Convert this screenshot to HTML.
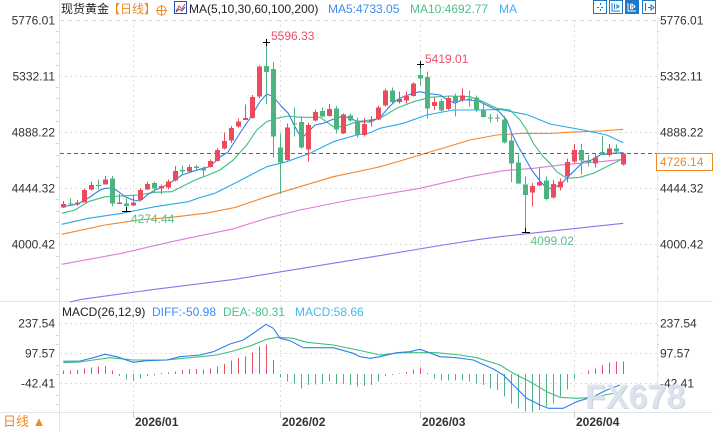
<!DOCTYPE html>
<html><head><meta charset="utf-8"><style>
html,body{margin:0;padding:0;background:#fff;}
svg{display:block;font-family:"Liberation Sans","Noto Sans CJK SC",sans-serif;}
</style></head><body>
<svg width="713" height="431" viewBox="0 0 713 431" xmlns="http://www.w3.org/2000/svg">
<rect width="713" height="431" fill="#fff"/>
<!-- grid -->
<g stroke="#dedede" stroke-width="1" fill="none">
<path d="M60 20.5H657" stroke-dasharray="4,4"/>
<path d="M60 76.5H657M60 132.5H657M60 188.5H657M60 244.5H657" stroke-dasharray="2,3"/>
<path d="M60 323.5H657M60 353.5H657M60 383.5H657" stroke-dasharray="2,3"/>
<path d="M133.5 20V412M280.5 20V412M420.5 20V412M574.5 20V412" stroke-dasharray="2,3"/>
</g>
<!-- frame lines -->
<g stroke="#e2e6ea" stroke-width="1" fill="none">
<path d="M59.5 0V431"/>
<path d="M657.5 16V412" stroke="#ececec"/>
<path d="M0 301.5H713"/>
<path d="M0 412.5H713"/>
<path d="M133.5 412V418M280.5 412V418M420.5 412V418M574.5 412V418" stroke="#c8c8c8"/>
</g>
<g stroke="#cfd6de" stroke-width="1">
<path d="M56 31.5H59M56 42.5H59M56 53.5H59M56 65.5H59M56 87.5H59M56 98.5H59M56 110.5H59M56 121.5H59M56 143.5H59M56 155.5H59M56 166.5H59M56 177.5H59M56 199.5H59M56 211.5H59M56 222.5H59M56 233.5H59M56 256.5H59M56 267.5H59M56 278.5H59M56 289.5H59"/>
<path d="M56 335.5H59M56 344.5H59M56 365.5H59M56 374.5H59M56 395.5H59M56 404.5H59"/>
<path d="M657 31.5H659M657 42.5H659M657 53.5H659M657 65.5H659M657 87.5H659M657 98.5H659M657 110.5H659M657 121.5H659M657 143.5H659M657 177.5H659M657 199.5H659M657 211.5H659M657 222.5H659M657 233.5H659M657 256.5H659M657 267.5H659M657 278.5H659M657 289.5H659"/>
<path d="M657 335.5H659M657 344.5H659M657 365.5H659M657 374.5H659M657 395.5H659M657 404.5H659"/>
</g>
<!-- axis labels -->
<g font-size="12" fill="#333" text-anchor="end">
<text x="55" y="24.5">5776.01</text>
<text x="55" y="80.5">5332.11</text>
<text x="55" y="136.5">4888.22</text>
<text x="55" y="192.5">4444.32</text>
<text x="55" y="248.5">4000.42</text>
<text x="55" y="327.5">237.54</text>
<text x="55" y="357.5">97.57</text>
<text x="55" y="387.5">-42.41</text>
</g>
<g font-size="12" fill="#333">
<text x="660" y="24.5">5776.01</text>
<text x="660" y="80.5">5332.11</text>
<text x="660" y="136.5">4888.22</text>
<text x="660" y="192.5">4444.32</text>
<text x="660" y="248.5">4000.42</text>
<text x="660" y="327.5">237.54</text>
<text x="660" y="357.5">97.57</text>
<text x="660" y="387.5">-42.41</text>
</g>
<!-- MA lines -->
<g fill="none" stroke-width="1.1" stroke-linejoin="round">
<polyline stroke="#8577f0" points="70,302 81.7,299.3 155,289.3 235,279.3 300,268.7 380,255.6 440,245.5 480,239.3 500,236.7 550,231.2 623.3,223.3"/>
<polyline stroke="#e07ad8" points="61.7,264.3 121.7,253.3 171.7,241.7 233.3,228.8 266.7,218.3 300,210 350,200 380,195 420,188.3 470,176.7 503.3,170.7 533.3,168.3 566.7,164.3 600,161.7 623.3,159.3"/>
<polyline stroke="#f5832a" points="61.7,234.3 105,225 138.3,220 171.7,217.3 205,213.3 235,207.5 266.7,196.7 300,186.7 333.3,176.7 370,169 380,166.7 403.3,160 436.7,150 470,140 496.7,135 523.3,133.3 550,133.5 566.7,132.3 600,131 623.3,129.3"/>
<polyline stroke="#2aaae8" points="61.7,224.3 88.3,218.3 121.7,213.3 155,206.7 188.3,201.7 200,197.5 215,193.3 233.3,184 266.7,166.7 286.7,161.7 310,153.3 333.3,141.7 356.7,135 370,132.7 380,128.3 403.3,123.3 426.7,115 453.3,110 480,110 500,109.5 506.7,110.7 520,113.3 528,115 550,124 583.3,130 606.7,135 623.3,142.7"/>
<polyline stroke="#3cbf7f" points="61.7,213.3 75,210 88.3,201.7 105,196.7 121.7,196 138.3,195 155,192.3 171.7,191.7 181.7,186.7 195,180 208.3,175 220,170 233.3,160 246.7,145 256.7,130 266.7,121.7 276.7,118.3 288.3,116 300,117.3 320,117.3 333.3,126.7 343.3,126.7 356.7,121.7 370,120 380,118.3 396.7,108.3 413.3,101.7 430,97.3 450,96 470,96.7 483.3,101.7 496.7,108.3 510,110 520,120 526.7,130 533.3,143.3 543.3,156.7 550,163.3 556.7,171.7 566.7,178.3 580,177.3 593.3,173.3 606.7,166.7 616.7,161.7 623.3,158.3"/>
<polyline stroke="#2f80ed" points="62,206.7 70,205.5 78,204 90,197 100,190 105,188.3 113,188 119,192 125,196.7 133,200 140,201 148,194.3 155,190 162,187.3 172,181.7 182,175 195,170.7 203,168.3 210,166.5 220,157 228,152 235,141 242,130 250,118.3 260,101.7 266.7,94 273.3,96.7 281.7,106.7 288.3,113.3 296.7,130 301.7,138.3 310,130 315,125 323.3,123.3 333.3,119.3 343.3,116 350,118.3 358.3,121.7 370,122 380,117.5 390,106 396.7,100 405,96 413.3,93.3 420,91.7 426.7,93.3 440,95 446.7,99.3 455,103.3 461.7,100 470,100 480,101.7 490,106.7 498.3,110.7 506.7,120 512,134 518,146 525,158 531.7,170 540,181 546.7,188.3 553.3,188.3 561.7,183.3 568.3,176.7 576.7,168.3 583.3,161.7 591.7,160 600,155 611.7,153.3 623.3,152.7"/>
</g>
<!-- current price line -->
<path d="M60 153.5H656" stroke="#1e6fd9" stroke-width="1" stroke-dasharray="4,3"/>
<rect x="656.5" y="153.5" width="56" height="17" fill="#fff" stroke="#f08a24"/>
<text x="660" y="166" font-size="12" fill="#f08a24">4726.14</text>
<!-- candles -->
<g shape-rendering="crispEdges">
<path stroke="#ec4b5c" stroke-width="1" fill="none" d="M63.5 201V208M77.5 200V206M84.5 188.7V202.7M91.5 181.7V190.7M105.5 176V184.7M119.5 194V204M133.5 194.7V206M140.5 188V200.7M147.5 181.7V190M161.5 184.7V194M168.5 179.3V189.3M175.5 166V181.3M189.5 164.3V172.3M210.5 159.3V167.7M217.5 148V161.7M224.5 132.7V149.3M231.5 126V143M238.5 118.7V127.3M245.5 104.7V120M252.5 95V118.7M259.5 65.3V98.7M287.5 123.3V160.7M308.5 122.7V161.3M315.5 109.3V121.3M329.5 104V116.7M343.5 113.3V134M364.5 118V136.7M371.5 116V126.7M378.5 105.3V120M385.5 88.7V106.3M399.5 91.3V103.3M406.5 91.7V103.3M413.5 82.7V96.7M434.5 97.3V110M448.5 96.7V110M462.5 88.7V102M532.5 183V206.7M539.5 168.7V186.7M553.5 180V198.3M560.5 178.3V190.7M567.5 158.3V182.7M574.5 144V163.3M595.5 153.3V167.3M609.5 144V156.7M623.5 152.7V165.3"/>
<g fill="#ec4b5c">
<rect x="61" y="204" width="5" height="3.3"/><rect x="75" y="202.7" width="5" height="2"/><rect x="82" y="190" width="5" height="12.7"/><rect x="89" y="185" width="5" height="4.3"/><rect x="103" y="179.3" width="5" height="5.4"/><rect x="117" y="202.7" width="5" height="1.2"/><rect x="131" y="202.7" width="5" height="2.6"/><rect x="138" y="190" width="5" height="10"/><rect x="145" y="184" width="5" height="5.3"/><rect x="159" y="186" width="5" height="2.7"/><rect x="166" y="181.7" width="5" height="5.6"/><rect x="173" y="171" width="5" height="9.7"/><rect x="187" y="167" width="5" height="4.7"/><rect x="208" y="161" width="5" height="6"/><rect x="215" y="150" width="5" height="11"/><rect x="222" y="141" width="5" height="7.7"/><rect x="229" y="128" width="5" height="12.7"/><rect x="236" y="121.3" width="5" height="5.4"/><rect x="243" y="118" width="5" height="2"/><rect x="250" y="97" width="5" height="21"/><rect x="257" y="66.7" width="5" height="30"/><rect x="285" y="127.3" width="5" height="32.7"/><rect x="306" y="125" width="5" height="24.3"/><rect x="313" y="112" width="5" height="8.7"/><rect x="327" y="109" width="5" height="7"/><rect x="341" y="114.7" width="5" height="18.6"/><rect x="362" y="124" width="5" height="11"/><rect x="369" y="119.3" width="5" height="2.4"/><rect x="376" y="107.3" width="5" height="12"/><rect x="383" y="90.7" width="5" height="15"/><rect x="397" y="99" width="5" height="3"/><rect x="404" y="96" width="5" height="4.7"/><rect x="411" y="83.7" width="5" height="12.3"/><rect x="432" y="102" width="5" height="4"/><rect x="446" y="98" width="5" height="11"/><rect x="460" y="95.3" width="5" height="4.7"/><rect x="530" y="186" width="5" height="6.7"/><rect x="537" y="182" width="5" height="3.7"/><rect x="551" y="184" width="5" height="13.3"/><rect x="558" y="181.7" width="5" height="5.6"/><rect x="565" y="162" width="5" height="14.7"/><rect x="572" y="150" width="5" height="11.7"/><rect x="593" y="157.3" width="5" height="6"/><rect x="607" y="148.3" width="5" height="6.7"/><rect x="621" y="153.3" width="5" height="11.4"/>
</g>
<path stroke="#4db380" stroke-width="1" fill="none" d="M70.5 198.7V206M98.5 179.3V189.3M112.5 176V206.7M126.5 198.7V211M154.5 181.7V192.7M182.5 165.3V174M196.5 165V169.3M203.5 166.3V177.7M266.5 42.7V104M273.5 62V157.3M280.5 133.3V194M294.5 107.3V136.7M301.5 116.7V148.7M322.5 107.3V117.3M336.5 106V133.3M350.5 113.3V121.7M357.5 117.3V137.3M392.5 87.3V103.3M420.5 65V85.7M427.5 71.7V118.7M441.5 98.7V111.3M455.5 93.3V116.7M469.5 90.7V106.7M476.5 95.3V112M483.5 103.3V117.7M490.5 114V122.7M497.5 114V122M504.5 116V143.3M511.5 133.3V182M518.5 153.3V184M525.5 176.7V232.5M546.5 176.7V200.7M581.5 144V174.3M588.5 155V166.7M602.5 136V155M616.5 144.7V153.3"/>
<g fill="#4db380">
<rect x="68" y="203.3" width="5" height="1.2"/><rect x="96" y="185" width="5" height="1.2"/><rect x="110" y="178.3" width="5" height="25"/><rect x="124" y="203.3" width="5" height="2.7"/><rect x="152" y="183" width="5" height="5.7"/><rect x="180" y="170" width="5" height="1.7"/><rect x="194" y="166.3" width="5" height="1.7"/><rect x="201" y="168.3" width="5" height="2"/><rect x="264" y="66" width="5" height="6"/><rect x="271" y="69" width="5" height="67.7"/><rect x="278" y="147.7" width="5" height="15"/><rect x="292" y="123.3" width="5" height="1.4"/><rect x="299" y="122" width="5" height="25.7"/><rect x="320" y="111" width="5" height="5.7"/><rect x="334" y="108.3" width="5" height="21"/><rect x="348" y="115.3" width="5" height="5.4"/><rect x="355" y="120.7" width="5" height="14"/><rect x="390" y="90.3" width="5" height="11.7"/><rect x="418" y="75" width="5" height="3.7"/><rect x="425" y="77" width="5" height="31.7"/><rect x="439" y="101" width="5" height="9.3"/><rect x="453" y="96" width="5" height="6"/><rect x="467" y="98.3" width="5" height="1.7"/><rect x="474" y="97.3" width="5" height="12.7"/><rect x="481" y="110.3" width="5" height="6.7"/><rect x="488" y="117.3" width="5" height="1.2"/><rect x="495" y="117.3" width="5" height="1.2"/><rect x="502" y="119.3" width="5" height="23.4"/><rect x="509" y="140.7" width="5" height="22.6"/><rect x="516" y="162.7" width="5" height="20.6"/><rect x="523" y="184.7" width="5" height="10.3"/><rect x="544" y="180.7" width="5" height="18.3"/><rect x="579" y="150" width="5" height="10.7"/><rect x="586" y="160.7" width="5" height="2"/><rect x="600" y="152" width="5" height="2"/><rect x="614" y="148.7" width="5" height="3"/>
</g>
</g>
<!-- high/low markers -->
<g stroke="#000" stroke-width="1" shape-rendering="crispEdges">
<path d="M263 42.5H270M266.5 39V46"/>
<path d="M417 64.5H424M420.5 61V68"/>
<path d="M122 211.5H131M126.5 207V211"/>
<path d="M522 232.5H530M525.5 228V232"/>
</g>
<g font-size="12">
<text x="271" y="40" fill="#ef4f6a">5596.33</text>
<text x="425" y="63" fill="#ef4f6a">5419.01</text>
<text x="131" y="223" fill="#5cbf8c">4274.44</text>
<text x="530.5" y="245" fill="#5cbf8c">4099.02</text>
</g>
<!-- header -->
<g font-size="12">
<text x="61" y="13" fill="#222">现货黄金</text>
<text x="108" y="13" fill="#f08a24">【日线】</text>
</g>
<g stroke="#f08a24" fill="none" stroke-width="1">
<circle cx="161.5" cy="10.5" r="4.5"/>
<path d="M156 10.5H167M161.5 5V16"/>
</g>
<rect x="174.5" y="1.5" width="12" height="12" fill="#fff" stroke="#2a4fb0"/>
<polyline points="176,11 179,6 182,9 185,4" fill="none" stroke="#e04050" stroke-width="1"/>
<polyline points="176,12 179,9 182,11 185,7" fill="none" stroke="#2a4fb0" stroke-width="1"/>
<g font-size="12">
<text x="189" y="13" fill="#222">MA(5,10,30,60,100,200)</text>
<text x="328" y="13" fill="#3b8cf5">MA5:4733.05</text>
<text x="410" y="13" fill="#4cc28a">MA10:4692.77</text>
<text x="499" y="13" fill="#3fb0f0">MA</text>
</g>
<!-- top-right icons -->
<g stroke="#1e78c8" stroke-width="1" fill="none" shape-rendering="crispEdges">
<rect x="593.5" y="0.5" width="13" height="13"/>
<path d="M597 7.5H599M601 7.5H603M600.5 3V5M600.5 9V11"/>
<rect x="609.5" y="0.5" width="13" height="13"/>
<path d="M612 3V11H620M614.5 4V9M617 5V8L619 6.5Z"/>
<rect x="625.5" y="0.5" width="13" height="13" fill="#1e78c8"/>
<path d="M628 3V11H636M630.5 4V9M632 4V9L635 6.5Z" stroke="#fff"/>
<rect x="642.5" y="0.5" width="13" height="13"/>
<path d="M645.5 3V11M648 7.5H651M651 5V10L654 7.5Z"/>
</g>
<!-- MACD header -->
<g font-size="12">
<text x="62" y="316" fill="#222">MACD(26,12,9)</text>
<text x="152" y="316" fill="#3b8cf5">DIFF:-50.98</text>
<text x="223" y="316" fill="#4cc28a">DEA:-80.31</text>
<text x="295" y="316" fill="#44bbee">MACD:58.66</text>
</g>
<!-- MACD histogram -->
<g stroke-width="1" shape-rendering="crispEdges">
<path stroke="#e8505e" d="M63.5 374V370.7M70.5 374V370.7M77.5 374V370M84.5 374V368.7M91.5 374V367.3M98.5 374V366.7M105.5 374V366M112.5 374V370.7M161.5 374V373M168.5 374V372.7M175.5 374V371.3M182.5 374V370M189.5 374V369M196.5 374V369M203.5 374V369.3M210.5 374V368.7M217.5 374V366.7M224.5 374V364M231.5 374V360.7M238.5 374V358M245.5 374V356.7M252.5 374V352.3M259.5 374V346.7M266.5 374V344.3M273.5 374V360M399.5 374V373.3M406.5 374V372M413.5 374V369.3M420.5 374V367.7M427.5 374V373M581.5 374V373.3M588.5 374V370.7M595.5 374V368.3M602.5 374V365M609.5 374V362.7M616.5 374V361.7M623.5 374V361.7"/>
<path stroke="#4db380" d="M119.5 374V376M126.5 374V379.3M133.5 374V380.7M140.5 374V378.3M147.5 374V376M154.5 374V375.3M280.5 374V377.3M287.5 374V381.7M294.5 374V383.3M301.5 374V388.3M308.5 374V385M315.5 374V384.3M322.5 374V384M329.5 374V381.7M336.5 374V384M343.5 374V384M350.5 374V385M357.5 374V386.7M364.5 374V386M371.5 374V385M378.5 374V381.7M385.5 374V376M392.5 374V375M434.5 374V378.3M441.5 374V380.7M448.5 374V380.7M455.5 374V380.7M462.5 374V380.7M469.5 374V381.7M476.5 374V383.3M483.5 374V385M490.5 374V388.3M497.5 374V390M504.5 374V396.7M511.5 374V403.3M518.5 374V408.3M525.5 374V411.7M532.5 374V412M539.5 374V410M546.5 374V406.7M553.5 374V403.3M560.5 374V396.7M567.5 374V389.3M574.5 374V378.3"/>
</g>
<!-- MACD lines -->
<g fill="none" stroke-width="1.1" stroke-linejoin="round">
<polyline stroke="#3cbf7f" points="63.3,362.7 80,362 93.3,360 110,357.7 133.3,360 166.7,360 200,356.7 216.7,355 233.3,351 250,346 266.7,339.3 276.7,337.3 293.3,338.3 306.7,342.3 333.3,345 360,350.5 380,355 400,352.7 436.7,352.7 460,355 476.7,357.7 500,365 513.3,373.3 530,381.7 546.7,391.7 560,397.3 576.7,398.3 593.3,397.3 610,394 623.3,391.7"/>
<polyline stroke="#2f80ed" points="63.3,361.3 80,361 93.3,357.7 105,354.3 116.7,356.7 133.3,362.3 146.7,360.7 166.7,360 180,356.7 200,355 213.3,351.7 230,344 243.3,340 253.3,333.3 266,324.3 273.3,328.3 280,338.3 290,340.7 303.3,347.7 333.3,347.7 353.3,353.3 360,356.7 370,358.3 380,356.7 396.7,352.7 410,351.7 420,349.3 426.7,351.7 440,356.7 456.7,357.7 473.3,360 493.3,369 503.3,375 513.3,385 526.7,398.3 540,405 548.3,408.3 563.3,408.3 576.7,401.7 593.3,396.7 606.7,390 620,385"/>
</g>
<!-- dates -->
<g font-size="12" font-weight="bold" fill="#333">
<text x="135" y="426">2026/01</text>
<text x="282" y="426">2026/02</text>
<text x="422" y="426">2026/03</text>
<text x="576" y="426">2026/04</text>
</g>
<text x="3" y="426" font-size="13" fill="#f08a24">日线 ▲</text>
<!-- watermark -->
<g font-size="34" font-weight="bold">
<text x="586" y="409" fill="#a9b8cc" opacity="0.6">FX678</text>
<text x="585" y="408" fill="#dde5ef" opacity="0.9">FX678</text>
</g>
</svg>
</body></html>
